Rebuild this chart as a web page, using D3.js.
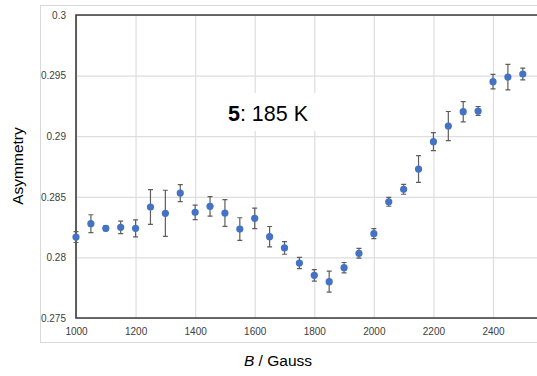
<!DOCTYPE html>
<html>
<head>
<meta charset="utf-8">
<script src="https://cdn.jsdelivr.net/npm/d3@7"></script>
<style>
  body { margin: 0; background: #fff; }
  svg { display: block; font-family: "Liberation Sans", Arial, sans-serif; }
</style>
</head>
<body>
<svg width="537" height="376"></svg>
<script>
// field values (Gauss), asymmetry and its error
const fields = [1000, 1050, 1100, 1150, 1200, 1250, 1300, 1350, 1400, 1450,
  1500, 1550, 1600, 1650, 1700, 1750, 1800, 1850, 1900, 1950,
  2000, 2050, 2100, 2150, 2200, 2250, 2300, 2350, 2400, 2450, 2500];
const asym = [0.28168, 0.28278, 0.2824, 0.28248, 0.2824, 0.28416, 0.28364, 0.28531, 0.28372, 0.28421,
  0.28366, 0.28234, 0.28322, 0.28171, 0.28078, 0.27954, 0.27852, 0.278, 0.27915, 0.28034,
  0.28196, 0.28459, 0.28562, 0.28729, 0.28955, 0.29084, 0.29202, 0.29208, 0.2945, 0.29488, 0.29513];
const errs = [0.00045, 0.00074, 0.0002, 0.00052, 0.0007, 0.00144, 0.0019, 0.0007, 0.0006, 0.0008,
  0.0011, 0.00093, 0.00085, 0.00084, 0.00052, 0.00047, 0.00047, 0.00087, 0.00043, 0.0004,
  0.00041, 0.00037, 0.00041, 0.0011, 0.00074, 0.0012, 0.00083, 0.00037, 0.0006, 0.00105, 0.00048];

const xTicks = [1000, 1200, 1400, 1600, 1800, 2000, 2200, 2400];
const xTickLabels = ["1000", "1200", "1400", "1600", "1800", "2000", "2200", "2400"];
const yTicks = [0.275, 0.28, 0.285, 0.29, 0.295, 0.3];
const yTickLabels = ["0.275", "0.28", "0.285", "0.29", "0.295", "0.3"];

const svg = d3.select("svg");
const plotLeft = 76, plotTop = 15, plotBottom = 318;

const x = d3.scaleLinear().domain([1000, 2600]).range([plotLeft, plotLeft + 1600 * 0.29786]);
const y = d3.scaleLinear().domain([0.275, 0.3]).range([plotBottom, plotTop]);
const plotRight = x(2600);

// outer chart border
svg.append("rect")
  .attr("x", 40.5).attr("y", 5.5)
  .attr("width", 560).attr("height", 337)
  .attr("fill", "none").attr("stroke", "#d9d9d9").attr("stroke-width", 1);

// gridlines
svg.append("g")
  .attr("transform", `translate(${plotLeft},0)`)
  .call(d3.axisLeft(y).tickValues(yTicks).tickSize(-(plotRight - plotLeft)).tickFormat(""))
  .call(g => g.select(".domain").remove())
  .call(g => g.selectAll("line").attr("stroke", "#dedede").attr("stroke-width", 1.2));

svg.append("g")
  .attr("transform", `translate(0,${plotBottom})`)
  .call(d3.axisBottom(x).tickValues(xTicks).tickSize(-(plotBottom - plotTop)).tickFormat(""))
  .call(g => g.select(".domain").remove())
  .call(g => g.selectAll("line").attr("stroke", "#dedede").attr("stroke-width", 1.2));

// tick labels
svg.append("g")
  .attr("transform", `translate(${plotLeft},0)`)
  .call(d3.axisLeft(y).tickValues(yTicks).tickSize(0).tickPadding(10)
    .tickFormat((d, i) => yTickLabels[i]))
  .call(g => g.select(".domain").remove())
  .call(g => g.selectAll("text").attr("fill", "#404040")
    .style("font-size", "10px").style("font-family", "'Liberation Sans', Arial, sans-serif"));

svg.append("g")
  .attr("transform", `translate(0,${plotBottom})`)
  .call(d3.axisBottom(x).tickValues(xTicks).tickSize(0).tickPadding(10)
    .tickFormat((d, i) => xTickLabels[i]))
  .call(g => g.select(".domain").remove())
  .call(g => g.selectAll("text").attr("fill", "#404040")
    .style("font-size", "10px").style("font-family", "'Liberation Sans', Arial, sans-serif"));

// plot frame (left, top, bottom)
svg.append("path")
  .attr("d", `M${plotRight},${plotTop}H${plotLeft}V${plotBottom}H${plotRight}`)
  .attr("fill", "none").attr("stroke", "#3a3a3a").attr("stroke-width", 1.6);

// title box
const tb = svg.append("g");
tb.append("rect")
  .attr("x", 218).attr("y", 93).attr("width", 99).attr("height", 38)
  .attr("fill", "#fff");
const title = tb.append("text")
  .attr("x", 268).attr("y", 121)
  .attr("text-anchor", "middle")
  .style("font-size", "21.5px").attr("fill", "#000");
title.append("tspan").attr("font-weight", "bold").text("5");
title.append("tspan").text(": 185 K");

// data
const pts = fields.map((f, i) => ({ f, a: asym[i], e: errs[i] }));
const capW = 2.5;

const eb = svg.append("g").attr("stroke", "#5e5e5e").attr("stroke-width", 1.2);
eb.selectAll("path")
  .data(pts)
  .join("path")
  .attr("fill", "none")
  .attr("d", d => {
    const cx = x(d.f), y1 = y(d.a + d.e), y2 = y(d.a - d.e);
    return `M${cx},${y1}V${y2}M${cx - capW},${y1}H${cx + capW}M${cx - capW},${y2}H${cx + capW}`;
  });

svg.append("g")
  .selectAll("circle")
  .data(pts)
  .join("circle")
  .attr("cx", d => x(d.f))
  .attr("cy", d => y(d.a))
  .attr("r", 3.6)
  .attr("fill", "#4472c4");

// axis titles
svg.append("text")
  .attr("transform", "translate(23,166) rotate(-90)")
  .attr("text-anchor", "middle")
  .style("font-size", "15.5px").attr("fill", "#000")
  .text("Asymmetry");

const xl = svg.append("text")
  .attr("x", 278).attr("y", 366)
  .attr("text-anchor", "middle")
  .style("font-size", "15.5px").attr("fill", "#000");
xl.append("tspan").attr("font-style", "italic").text("B");
xl.append("tspan").text(" / Gauss");
</script>
</body>
</html>
